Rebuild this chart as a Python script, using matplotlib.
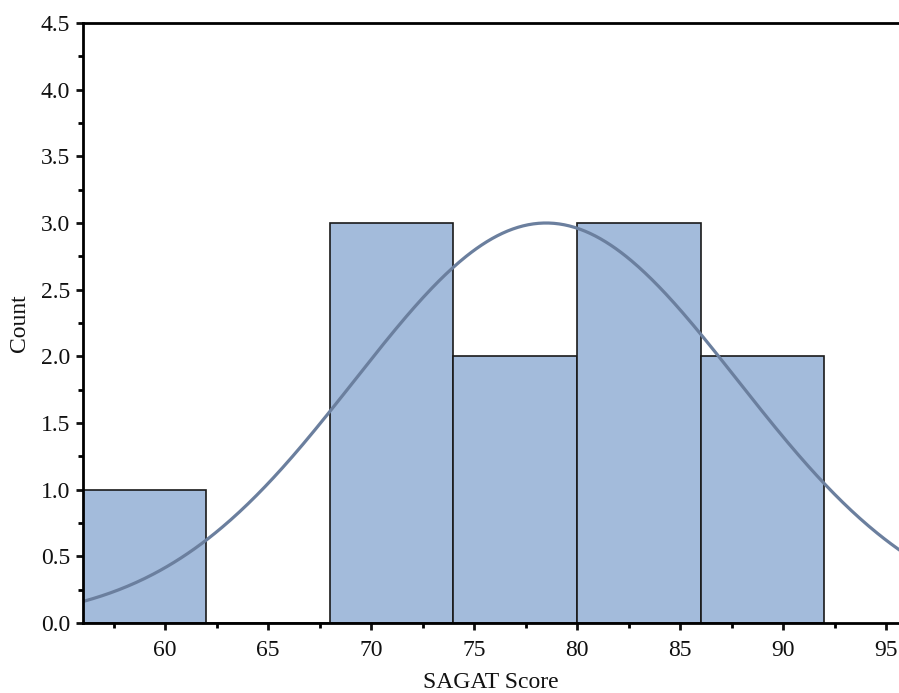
import numpy as np
import matplotlib
matplotlib.use("Agg")
import matplotlib.pyplot as plt
from matplotlib.ticker import MultipleLocator

plt.rcParams['font.family'] = ['Liberation Serif', 'DejaVu Serif']

# Histogram data
bin_edges = [56, 62, 68, 74, 80, 86, 92]
counts = [1, 0, 3, 2, 3, 2]

# Fitted normal curve parameters
curve_mean = 78.5
curve_sd = 9.3
curve_peak = 3.0

x_ticks = [60, 65, 70, 75, 80, 85, 90, 95]
y_ticks = [0.0, 0.5, 1.0, 1.5, 2.0, 2.5, 3.0, 3.5, 4.0, 4.5]

fig = plt.figure(figsize=(8.99, 6.93), dpi=100)
ax = fig.add_axes([82.6/899, 70/693, 1 - 82.6/899, 600/693])

lefts = bin_edges[:-1]
widths = np.diff(bin_edges)
ax.bar(lefts, counts, width=widths, align='edge', color='#a3bbdb',
       edgecolor='#1a1a1a', linewidth=1.2, zorder=2)

xs = np.linspace(50, 100, 600)
ys = curve_peak * np.exp(-0.5 * ((xs - curve_mean) / curve_sd) ** 2)
ax.plot(xs, ys, color='#6b7f9e', linewidth=2.3, zorder=3)

ax.set_xlim(56, 95.63)
ax.set_ylim(0, 4.5)
ax.set_xticks(x_ticks)
ax.set_yticks(y_ticks)
ax.set_yticklabels([f"{v:.1f}" for v in y_ticks])
ax.xaxis.set_minor_locator(MultipleLocator(2.5))
ax.yaxis.set_minor_locator(MultipleLocator(0.25))

ax.tick_params(axis='both', which='major', direction='out', length=5, width=2,
               labelsize=17, colors='#111111', pad=4)
ax.tick_params(axis='both', which='minor', direction='out', length=3.5, width=2)
ax.tick_params(axis='x', pad=7)

for s in ['left', 'bottom', 'top']:
    ax.spines[s].set_linewidth(2)
    ax.spines[s].set_zorder(5)
ax.spines['right'].set_visible(False)

ax.set_xlabel('SAGAT Score', fontsize=17, labelpad=8, color='#111111')
ax.set_ylabel('Count', fontsize=17, labelpad=8, color='#111111')

fig.savefig('out.png', dpi=100)
